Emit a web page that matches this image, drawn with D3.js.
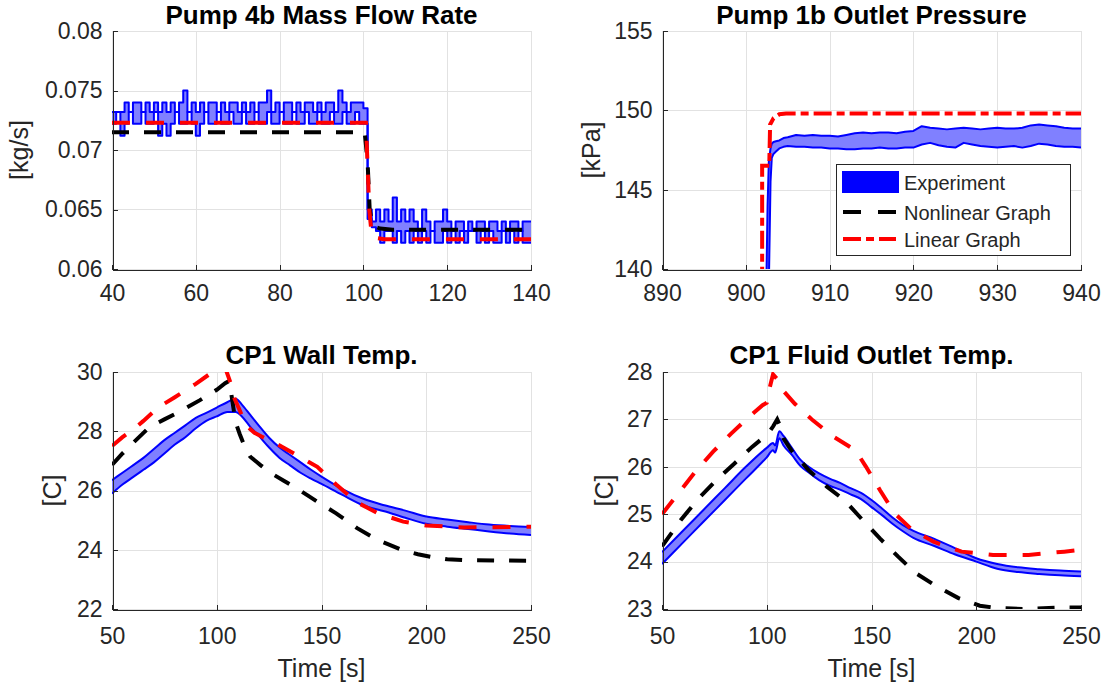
<!DOCTYPE html>
<html>
<head>
<meta charset="utf-8">
<script src="https://cdn.jsdelivr.net/npm/d3@7"></script>
<style>
  body { margin: 0; background: #fff; }
  svg { display: block; font-family: "Liberation Sans", Arial, Helvetica, sans-serif; }
  .grid line { stroke: #e2e2e2; stroke-width: 1; shape-rendering: crispEdges; }
  .axis path, .axis line { stroke: #262626; stroke-width: 1; shape-rendering: crispEdges; }
  .axis text { fill: #262626; font-size: 23px; font-family: "Liberation Sans", Arial, Helvetica, sans-serif; }
  .title { font-size: 26px; font-weight: bold; fill: #000; text-anchor: middle; }
  .label { font-size: 25px; fill: #262626; text-anchor: middle; }
  .legend text { font-size: 20px; fill: #262626; }
</style>
</head>
<body>
<svg id="chart" width="1107" height="688"></svg>
<script>
// ---------- 数据 ----------
// 图1：Pump 4b Mass Flow Rate
const p1XTicks = [40, 60, 80, 100, 120, 140];
const p1YTicks = [0.06, 0.065, 0.07, 0.075, 0.08];
const p1YTickLabels = ['0.06', '0.065', '0.07', '0.075', '0.08'];
const p1Time = d3.range(40, 141, 1);
const p1ExpHigh = [
  0.0732, 0.0732, 0.0732, 0.0740, 0.0732, 0.0740, 0.0740, 0.0732, 0.0740, 0.0732,
  0.0740, 0.0732, 0.0740, 0.0732, 0.0740, 0.0732, 0.0740, 0.0750, 0.0732, 0.0740,
  0.0732, 0.0740, 0.0732, 0.0740, 0.0740, 0.0732, 0.0740, 0.0732, 0.0740, 0.0740,
  0.0732, 0.0740, 0.0732, 0.0740, 0.0732, 0.0740, 0.0740, 0.0750, 0.0732, 0.0740,
  0.0732, 0.0740, 0.0740, 0.0732, 0.0740, 0.0732, 0.0740, 0.0740, 0.0732, 0.0740,
  0.0732, 0.0740, 0.0740, 0.0732, 0.0750, 0.0740, 0.0732, 0.0740, 0.0740, 0.0740,
  0.0735,
  0.0650, 0.0640, 0.0650, 0.0640, 0.0650, 0.0640, 0.0660, 0.0640, 0.0650, 0.0640,
  0.0650, 0.0640, 0.0632, 0.0650, 0.0640, 0.0632, 0.0640, 0.0640, 0.0650, 0.0640,
  0.0632, 0.0640, 0.0640, 0.0632, 0.0640, 0.0632, 0.0640, 0.0640, 0.0632, 0.0640,
  0.0640, 0.0632, 0.0640, 0.0632, 0.0640, 0.0640, 0.0632, 0.0640, 0.0640, 0.0640
];
const p1ExpLow = [
  0.0722, 0.0732, 0.0712, 0.0722, 0.0732, 0.0722, 0.0722, 0.0732, 0.0722, 0.0722,
  0.0732, 0.0712, 0.0722, 0.0712, 0.0722, 0.0732, 0.0722, 0.0722, 0.0732, 0.0722,
  0.0712, 0.0722, 0.0732, 0.0722, 0.0722, 0.0732, 0.0722, 0.0722, 0.0732, 0.0722,
  0.0722, 0.0732, 0.0722, 0.0722, 0.0732, 0.0722, 0.0722, 0.0732, 0.0722, 0.0722,
  0.0732, 0.0722, 0.0722, 0.0732, 0.0722, 0.0722, 0.0732, 0.0722, 0.0722, 0.0732,
  0.0722, 0.0722, 0.0732, 0.0722, 0.0722, 0.0732, 0.0722, 0.0722, 0.0732, 0.0722,
  0.0722,
  0.0642, 0.0635, 0.0632, 0.0622, 0.0632, 0.0632, 0.0622, 0.0632, 0.0622, 0.0632,
  0.0622, 0.0632, 0.0622, 0.0632, 0.0622, 0.0632, 0.0622, 0.0622, 0.0632, 0.0622,
  0.0632, 0.0622, 0.0632, 0.0622, 0.0632, 0.0632, 0.0622, 0.0632, 0.0622, 0.0632,
  0.0622, 0.0622, 0.0632, 0.0622, 0.0632, 0.0622, 0.0632, 0.0622, 0.0622, 0.0622
];
const p1NonlinTime = [40, 100.3, 101.0, 101.5, 102.2, 104, 107, 140];
const p1NonlinVal = [0.0715, 0.0715, 0.0690, 0.0650, 0.0636, 0.0634, 0.0633, 0.0633];
const p1LinTime = [40, 100.6, 101.4, 102.0, 103, 105, 140];
const p1LinVal = [0.0723, 0.0723, 0.0650, 0.0628, 0.0626, 0.0625, 0.0625];

// 图2：Pump 1b Outlet Pressure
const p2XTicks = [890, 900, 910, 920, 930, 940];
const p2YTicks = [140, 145, 150, 155];
const p2Time = [902.45, 902.6, 902.75, 902.95, 903.1, 903.3, 903.6, 904, 904.5, 905, 906, 907,
  908, 909, 910, 911, 912, 913, 914, 915, 916, 917, 918, 919, 920, 921, 922, 923, 924, 925,
  926, 927, 928, 929, 930, 931, 932, 933, 934, 935, 936, 937, 938, 939, 940];
const p2ExpHigh = [139, 144.0, 146.8, 147.6, 147.9, 148.0, 148.05, 148.1, 148.25, 148.3,
  148.45, 148.4, 148.45, 148.4, 148.4, 148.35, 148.45, 148.55, 148.6, 148.55, 148.6, 148.6,
  148.55, 148.65, 148.7, 149.0, 148.9, 148.85, 148.8, 148.85, 148.9, 148.85, 148.8, 148.85,
  148.9, 148.85, 148.85, 148.9, 149.05, 149.1, 149.05, 149.0, 148.9, 148.85, 148.85];
const p2ExpLow = [139, 139, 139, 145.5, 147.0, 147.25, 147.4, 147.6, 147.7, 147.75,
  147.7, 147.7, 147.65, 147.65, 147.6, 147.6, 147.55, 147.55, 147.6, 147.6, 147.65, 147.6,
  147.6, 147.65, 147.65, 147.85, 147.95, 147.8, 147.7, 147.65, 147.95, 147.85, 147.75, 147.7,
  147.65, 147.7, 147.75, 147.65, 147.75, 147.9, 147.85, 147.75, 147.7, 147.7, 147.65];
const p2LinTime = [901.95, 901.95, 902.8, 902.9, 903.3, 904.0, 904.8, 940];
const p2LinVal = [139, 146.5, 146.5, 149.1, 149.5, 149.75, 149.8, 149.8];

// 图3：CP1 Wall Temp.
const p3XTicks = [50, 100, 150, 200, 250];
const p3YTicks = [22, 24, 26, 28, 30];
const p3Time = [50, 55, 60, 65, 70, 75, 80, 85, 90, 95, 100, 105, 109, 112, 116, 120, 125,
  130, 135, 140, 145, 150, 160, 170, 180, 190, 200, 210, 220, 230, 240, 250];
const p3ExpHigh = [26.35, 26.6, 26.85, 27.1, 27.4, 27.7, 27.95, 28.2, 28.45, 28.62, 28.8,
  28.98, 29.1, 28.9, 28.55, 28.2, 27.78, 27.45, 27.2, 26.95, 26.7, 26.47, 26.05, 25.72,
  25.5, 25.32, 25.12, 25.02, 24.93, 24.85, 24.8, 24.77];
const p3ExpLow = [25.9, 26.2, 26.45, 26.7, 26.95, 27.25, 27.55, 27.8, 28.1, 28.35, 28.5,
  28.65, 28.65, 28.5, 28.15, 27.85, 27.45, 27.1, 26.85, 26.6, 26.4, 26.22, 25.85, 25.5,
  25.3, 25.08, 24.88, 24.78, 24.7, 24.62, 24.55, 24.5];
const p3NonlinTime = [50, 55, 60, 68, 75, 82, 92, 100, 104, 106, 107.5, 109, 111, 113.5, 116,
  121, 126, 132, 138, 143, 148, 157, 167, 177, 189, 196, 203, 210, 218, 250];
const p3NonlinVal = [26.86, 27.25, 27.6, 28.15, 28.4, 28.65, 29.05, 29.4, 29.62, 29.7, 29.0,
  28.3, 27.9, 27.45, 27.14, 26.85, 26.58, 26.33, 26.08, 25.85, 25.62, 25.23, 24.73, 24.32,
  23.98, 23.85, 23.75, 23.68, 23.65, 23.63];
const p3LinTime = [50, 55, 60, 65, 72, 80, 90, 98, 104, 107, 108.5, 111, 114, 118, 122, 128,
  138, 148, 157, 167, 177, 189, 200, 218, 250];
const p3LinVal = [27.5, 27.8, 28.05, 28.35, 28.8, 29.15, 29.6, 30.0, 30.15, 29.55, 29.1,
  28.7, 28.2, 27.95, 27.8, 27.6, 27.2, 26.8, 26.2, 25.6, 25.23, 24.95, 24.82, 24.75, 24.78];

// 图4：CP1 Fluid Outlet Temp.
const p4XTicks = [50, 100, 150, 200, 250];
const p4YTicks = [23, 24, 25, 26, 27, 28];
const p4Time = [50, 60, 70, 80, 90, 100, 103, 104, 106, 108, 112, 116, 120, 125, 130, 135,
  140, 145, 150, 155, 160, 165, 170, 180, 190, 200, 210, 220, 230, 240, 250];
const p4ExpHigh = [24.2, 24.65, 25.1, 25.55, 26.0, 26.4, 26.5, 26.45, 26.75, 26.65, 26.4,
  26.15, 26.0, 25.86, 25.75, 25.66, 25.55, 25.45, 25.3, 25.12, 24.93, 24.77, 24.65, 24.48,
  24.28, 24.07, 23.95, 23.88, 23.84, 23.81, 23.79];
const p4ExpLow = [23.95, 24.4, 24.85, 25.3, 25.75, 26.2, 26.35, 26.3, 26.6, 26.45, 26.25,
  26.02, 25.88, 25.72, 25.6, 25.52, 25.42, 25.32, 25.15, 24.98, 24.8, 24.64, 24.5, 24.33,
  24.15, 24.0, 23.85, 23.78, 23.74, 23.71, 23.69];
const p4NonlinTime = [50, 59, 67.6, 76, 84.6, 93, 100.7, 103, 105, 106, 108, 111.7, 120,
  128.7, 137, 145.7, 154, 162.6, 171, 181, 191.5, 201.7, 210, 222, 240, 250];
const p4NonlinVal = [24.32, 24.88, 25.34, 25.72, 26.07, 26.42, 26.7, 26.85, 27.0, 26.9, 26.6,
  26.35, 25.93, 25.58, 25.3, 24.88, 24.49, 24.11, 23.76, 23.48, 23.23, 23.07, 23.02, 23.0,
  23.03, 23.03];
const p4LinTime = [50, 58, 66, 74.4, 83, 91.4, 98, 100, 101, 103, 105, 107, 113.4, 122, 132,
  142.3, 147.4, 154, 161, 169.4, 179.6, 193, 208, 225, 242, 250];
const p4LinVal = [25.0, 25.45, 25.9, 26.32, 26.7, 27.05, 27.3, 27.35, 27.6, 27.95, 27.85,
  27.65, 27.33, 26.98, 26.63, 26.35, 26.0, 25.51, 25.02, 24.67, 24.42, 24.21, 24.14, 24.14,
  24.21, 24.25];

const legendNames = ['Experiment', 'Nonlinear Graph', 'Linear Graph'];

// ---------- 样式 ----------
const BLUE = '#0000ff';
const FILL = '#8080ff';
const DASH_BLACK = '17,15';
const DASH_RED = '18,16';
const DASHDOT_RED = '18,5,8,5';

const svg = d3.select('#chart');

function zip(ts, vs) {
  return ts.map(function (t, i) { return { t: t, v: vs[i] }; });
}

function drawPanel(opt) {
  const x = d3.scaleLinear().domain(opt.xDomain).range([opt.left, opt.right]);
  const y = d3.scaleLinear().domain(opt.yDomain).range([opt.bottom, opt.top]);
  const g = svg.append('g');

  // 网格
  const grid = g.append('g').attr('class', 'grid');
  grid.selectAll('.vx').data(opt.xTicks).enter().append('line')
    .attr('x1', d => Math.round(x(d)) + 0.5).attr('x2', d => Math.round(x(d)) + 0.5)
    .attr('y1', opt.top).attr('y2', opt.bottom);
  grid.selectAll('.hy').data(opt.yTicks).enter().append('line')
    .attr('y1', d => Math.round(y(d)) + 0.5).attr('y2', d => Math.round(y(d)) + 0.5)
    .attr('x1', opt.left).attr('x2', opt.right);

  // 裁剪区域
  const clipId = 'clip' + opt.id;
  svg.append('clipPath').attr('id', clipId).append('rect')
    .attr('x', opt.left).attr('y', opt.top)
    .attr('width', opt.right - opt.left).attr('height', opt.bottom - opt.top);
  const plot = g.append('g').attr('clip-path', 'url(#' + clipId + ')');

  // 实验数据范围带
  const band = opt.bandTime.map((t, i) => ({ t: t, hi: opt.bandHigh[i], lo: opt.bandLow[i] }));
  const area = d3.area().curve(opt.curve)
    .x(d => x(d.t)).y0(d => y(d.lo)).y1(d => y(d.hi));
  plot.append('path').datum(band).attr('d', area).attr('fill', FILL);
  const edge = d3.line().curve(opt.curve).x(d => x(d.t)).y(d => y(d.v));
  [opt.bandHigh, opt.bandLow].forEach(function (vals) {
    plot.append('path').datum(zip(opt.bandTime, vals)).attr('d', edge)
      .attr('fill', 'none').attr('stroke', BLUE).attr('stroke-width', opt.edgeWidth)
      .attr('stroke-linejoin', 'round');
  });

  const line = d3.line().x(d => x(d.t)).y(d => y(d.v));
  if (opt.nonlinTime) {
    plot.append('path').datum(zip(opt.nonlinTime, opt.nonlinVal)).attr('d', line)
      .attr('fill', 'none').attr('stroke', '#000').attr('stroke-width', 4)
      .attr('stroke-dasharray', DASH_BLACK);
  }
  plot.append('path').datum(zip(opt.linTime, opt.linVal)).attr('d', line)
    .attr('fill', 'none').attr('stroke', '#ff0000').attr('stroke-width', 4)
    .attr('stroke-dasharray', opt.redDash);

  // 坐标轴
  const xAxis = d3.axisBottom(x).tickValues(opt.xTicks).tickSizeInner(-5).tickSizeOuter(0)
    .tickPadding(opt.xTickPad).tickFormat(d3.format('d'));
  g.append('g').attr('class', 'axis').attr('transform', 'translate(0,' + (opt.bottom + 0.5) + ')')
    .call(xAxis);
  const yAxis = d3.axisLeft(y).tickValues(opt.yTicks).tickSizeInner(-5).tickSizeOuter(0)
    .tickPadding(10)
    .tickFormat((d, i) => opt.yTickLabels ? opt.yTickLabels[i] : d3.format('d')(d));
  g.append('g').attr('class', 'axis').attr('transform', 'translate(' + (opt.left + 0.5) + ',0)')
    .call(yAxis);
  g.selectAll('.axis .domain').attr('fill', 'none');

  // 标题与轴标签
  const cx = (opt.left + opt.right) / 2;
  g.append('text').attr('class', 'title').attr('x', cx).attr('y', opt.titleY).text(opt.title);
  g.append('text').attr('class', 'label')
    .attr('transform', 'translate(' + opt.yLabelX + ',' + ((opt.top + opt.bottom) / 2) + ') rotate(-90)')
    .text(opt.yLabel);
  if (opt.xLabel) {
    g.append('text').attr('class', 'label').attr('x', cx).attr('y', opt.xLabelY).text(opt.xLabel);
  }
  return { x: x, y: y };
}

drawPanel({
  id: 1, left: 112, right: 531, top: 31, bottom: 269,
  xDomain: [40, 140], yDomain: [0.06, 0.08], xTicks: p1XTicks, yTicks: p1YTicks,
  yTickLabels: p1YTickLabels, xTickPad: 15,
  bandTime: p1Time, bandHigh: p1ExpHigh, bandLow: p1ExpLow, curve: d3.curveStepAfter, edgeWidth: 2,
  nonlinTime: p1NonlinTime, nonlinVal: p1NonlinVal, linTime: p1LinTime, linVal: p1LinVal,
  redDash: DASH_RED,
  title: 'Pump 4b Mass Flow Rate', titleY: 24, yLabel: '[kg/s]', yLabelX: 28
});

drawPanel({
  id: 2, left: 662, right: 1081, top: 31, bottom: 269,
  xDomain: [890, 940], yDomain: [140, 155], xTicks: p2XTicks, yTicks: p2YTicks, xTickPad: 15,
  bandTime: p2Time, bandHigh: p2ExpHigh, bandLow: p2ExpLow, curve: d3.curveLinear, edgeWidth: 2,
  linTime: p2LinTime, linVal: p2LinVal, redDash: DASHDOT_RED,
  title: 'Pump 1b Outlet Pressure', titleY: 24, yLabel: '[kPa]', yLabelX: 600
});

drawPanel({
  id: 3, left: 112, right: 531, top: 372, bottom: 609,
  xDomain: [50, 250], yDomain: [22, 30], xTicks: p3XTicks, yTicks: p3YTicks, xTickPad: 18,
  bandTime: p3Time, bandHigh: p3ExpHigh, bandLow: p3ExpLow, curve: d3.curveMonotoneX, edgeWidth: 2,
  nonlinTime: p3NonlinTime, nonlinVal: p3NonlinVal, linTime: p3LinTime, linVal: p3LinVal,
  redDash: DASH_RED,
  title: 'CP1 Wall Temp.', titleY: 364, yLabel: '[C]', yLabelX: 61,
  xLabel: 'Time [s]', xLabelY: 677
});

drawPanel({
  id: 4, left: 662, right: 1081, top: 372, bottom: 609,
  xDomain: [50, 250], yDomain: [23, 28], xTicks: p4XTicks, yTicks: p4YTicks, xTickPad: 18,
  bandTime: p4Time, bandHigh: p4ExpHigh, bandLow: p4ExpLow, curve: d3.curveMonotoneX, edgeWidth: 2,
  nonlinTime: p4NonlinTime, nonlinVal: p4NonlinVal, linTime: p4LinTime, linVal: p4LinVal,
  redDash: DASH_RED,
  title: 'CP1 Fluid Outlet Temp.', titleY: 364, yLabel: '[C]', yLabelX: 613,
  xLabel: 'Time [s]', xLabelY: 677
});

// 图例（位于图2）
const legend = svg.append('g').attr('class', 'legend');
legend.append('rect').attr('x', 836.5).attr('y', 164.5).attr('width', 234).attr('height', 91)
  .attr('fill', '#fff').attr('stroke', '#262626').attr('stroke-width', 1);
const rowY = [182, 212, 239];
legend.append('rect').attr('x', 842).attr('y', rowY[0] - 11).attr('width', 57).attr('height', 22)
  .attr('fill', BLUE);
legend.append('line').attr('x1', 843).attr('x2', 896).attr('y1', rowY[1]).attr('y2', rowY[1])
  .attr('stroke', '#000').attr('stroke-width', 4).attr('stroke-dasharray', '18,17');
legend.append('line').attr('x1', 843).attr('x2', 896).attr('y1', rowY[2]).attr('y2', rowY[2])
  .attr('stroke', '#ff0000').attr('stroke-width', 4).attr('stroke-dasharray', DASHDOT_RED);
legend.selectAll('.name').data(legendNames).enter().append('text')
  .attr('x', 904).attr('y', (d, i) => rowY[i] + 8).text(d => d);
</script>
</body>
</html>
